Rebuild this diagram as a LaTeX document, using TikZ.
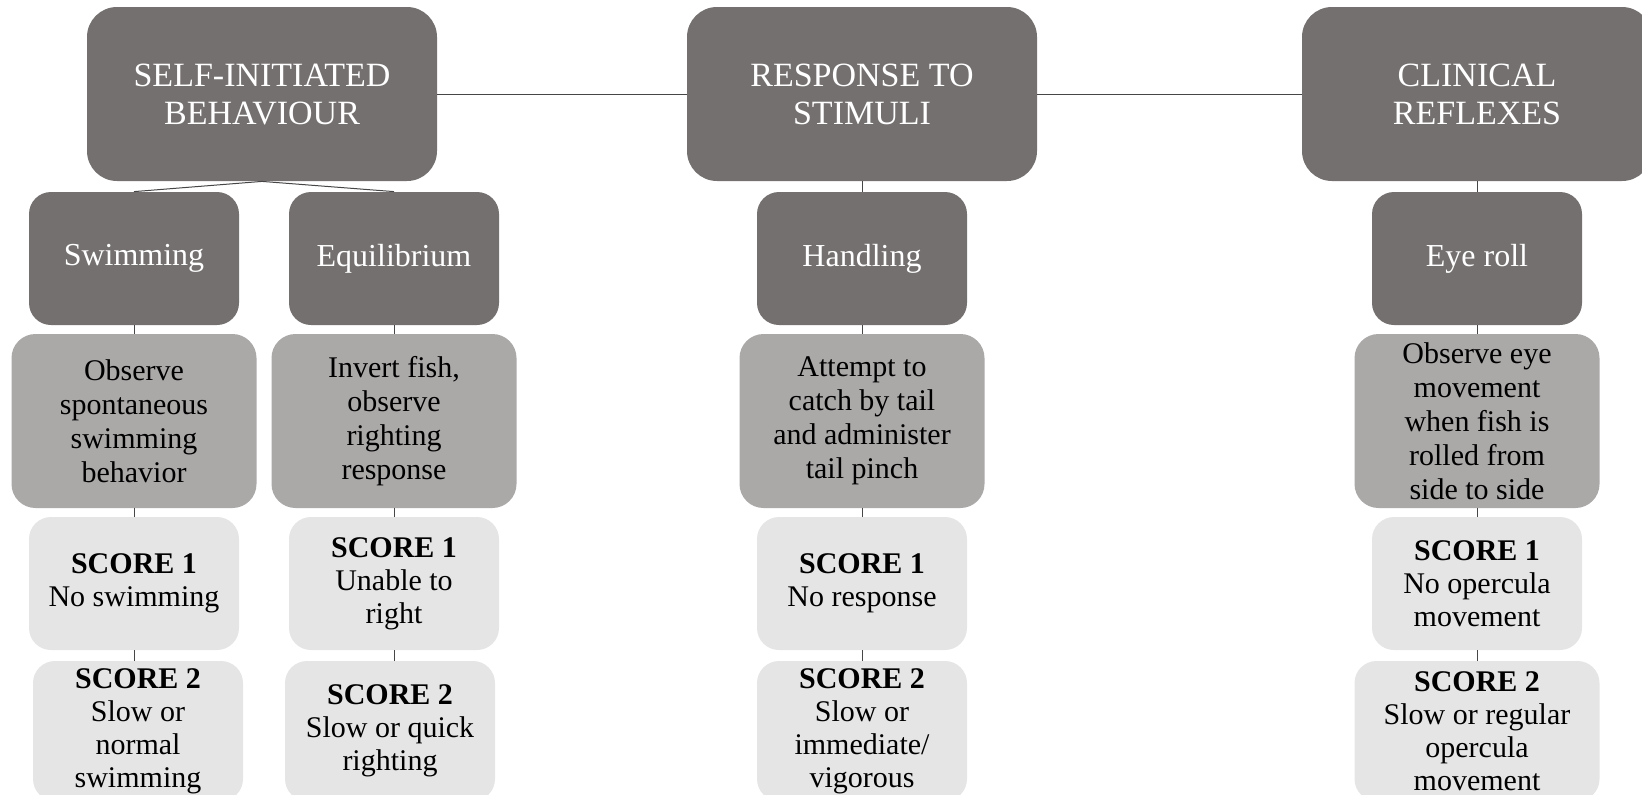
\documentclass[tikz,border=0pt]{standalone}
\usepackage{fontspec}
\setmainfont{Liberation Serif}
\usetikzlibrary{positioning}
\definecolor{headgray}{RGB}{117,112,112}
\definecolor{midgray}{RGB}{171,168,168}
\definecolor{palegray}{RGB}{229,229,229}
\definecolor{linegray}{RGB}{70,70,70}
\tikzset{
  head-node/.style={fill=headgray, rounded corners=15pt, minimum width=175pt,
    minimum height=87pt, text=white, align=center,
    font=\fontsize{17}{19}\selectfont, inner sep=2pt},
  test-node/.style={fill=headgray, rounded corners=11pt, minimum width=105pt,
    minimum height=66.5pt, text=white, align=center,
    font=\fontsize{16}{19}\selectfont, inner sep=2pt},
  method-node/.style={fill=midgray, rounded corners=12pt, minimum width=122.5pt,
    minimum height=87pt, align=center, font=\fontsize{15}{17}\selectfont,
    inner sep=1pt},
  score-node/.style={fill=palegray, rounded corners=11pt, minimum width=105pt,
    minimum height=66.5pt, align=center, font=\fontsize{15}{16.5}\selectfont,
    inner sep=1pt},
  link-line/.style={draw=linegray, line width=0.5pt}
}

\begin{document}
\begin{tikzpicture}[x=0.5pt, y=-0.5pt]
\path[use as bounding box, clip] (0,0) rectangle (1642,794);

% Category headers
\node[head-node] (self) at (262,94) {SELF-INITIATED\\BEHAVIOUR};
\node[head-node] (resp) at (862,94) {RESPONSE TO\\STIMULI};
\node[head-node] (clin) at (1477,94) {CLINICAL\\REFLEXES};

% Tests
\node[test-node] (swim) at (134,258.5) {Swimming};
\node[test-node] (equi) at (394,258.5) {Equilibrium};
\node[test-node] (hand) at (862,258.5) {Handling};
\node[test-node] (eye) at (1477,258.5) {Eye roll};

% Methods
\node[method-node] (swim-obs) at (134,421) {Observe\\spontaneous\\swimming\\behavior};
\node[method-node] (equi-obs) at (394,421) {Invert fish,\\observe\\righting\\response};
\node[method-node] (hand-obs) at (862,421) {Attempt to\\catch by tail\\and administer\\tail pinch};
\node[method-node] (eye-obs) at (1477,421) {Observe eye\\movement\\when fish is\\rolled from\\side to side};

% Score 1
\node[score-node] (swim-one) at (134,583.5) {\textbf{SCORE 1}\\No swimming};
\node[score-node] (equi-one) at (394,583.5) {\textbf{SCORE 1}\\Unable to\\right};
\node[score-node] (hand-one) at (862,583.5) {\textbf{SCORE 1}\\No response};
\node[score-node] (eye-one) at (1477,583.5) {\textbf{SCORE 1}\\No opercula\\movement};

% Score 2
\node[score-node, minimum height=70pt] (swim-two) at (138,731) {\textbf{SCORE 2}\\Slow or\\normal\\swimming};
\node[score-node, minimum height=70pt] (equi-two) at (390,731) {\textbf{SCORE 2}\\Slow or quick\\righting};
\node[score-node, minimum height=70pt] (hand-two) at (862,731) {\textbf{SCORE 2}\\Slow or\\immediate/\\vigorous};
\node[score-node, minimum height=70pt, minimum width=122.5pt] (eye-two) at (1477,731) {\textbf{SCORE 2}\\Slow or regular\\opercula\\movement};

% Links
\draw[link-line] (self.east) -- (resp.west);
\draw[link-line] (resp.east) -- (clin.west);
\draw[link-line] (self.south) -- (swim.north);
\draw[link-line] (self.south) -- (equi.north);
\draw[link-line] (resp.south) -- (hand.north);
\draw[link-line] (clin.south) -- (eye.north);
\foreach \col in {swim,equi,hand,eye}{
  \draw[link-line] (\col.south) -- (\col-obs.north);
  \draw[link-line] (\col-obs.south) -- (\col-one.north);
  \draw[link-line] (\col-one.south) -- (\col-one.south |- \col-two.north);
}
\end{tikzpicture}
\end{document}
